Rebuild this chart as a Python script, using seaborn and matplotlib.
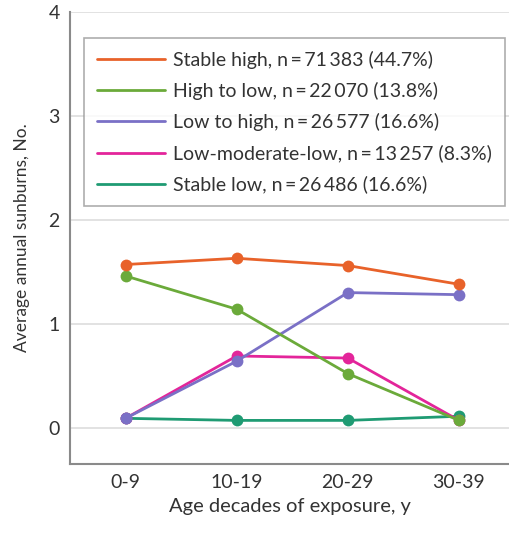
import pandas as pd
import numpy as np
import matplotlib.pyplot as plt
import seaborn as sns
from matplotlib.lines import Line2D

# Data
decades = ['0-9', '10-19', '20-29', '30-39']
groups = [
    'Stable high, n\u2009=\u200971\u2009383 (44.7%)',
    'High to low, n\u2009=\u200922\u2009070 (13.8%)',
    'Low to high, n\u2009=\u200926\u2009577 (16.6%)',
    'Low-moderate-low, n\u2009=\u200913\u2009257 (8.3%)',
    'Stable low, n\u2009=\u200926\u2009486 (16.6%)',
]
stable_high = [1.57, 1.63, 1.56, 1.38]
high_to_low = [1.46, 1.14, 0.52, 0.07]
low_to_high = [0.09, 0.64, 1.30, 1.28]
low_mod_low = [0.09, 0.69, 0.67, 0.07]
stable_low = [0.09, 0.07, 0.07, 0.11]
colors = ['#E8622A', '#6BAA3A', '#7A70C6', '#E3259A', '#1F9B73']

series = [stable_high, high_to_low, low_to_high, low_mod_low, stable_low]
rows = []
for g, vals in zip(groups, series):
    for d, v in zip(decades, vals):
        rows.append({'decade': d, 'sunburns': v, 'group': g})
df = pd.DataFrame(rows)

sns.set_style('white')
plt.rcParams['font.family'] = ['Lato', 'DejaVu Sans']

fig = plt.figure(figsize=(5.09, 5.34), dpi=100)
ax = fig.add_axes([0.1375, 0.131, 0.8625, 0.8465])

ax.grid(axis='y', color='#dddddd', linewidth=1.2)
ax.set_axisbelow(True)

# draw in reverse so the first groups sit on top where they overlap
sns.lineplot(data=df, x='decade', y='sunburns', hue='group', hue_order=groups[::-1],
             palette=colors[::-1], marker='o', markersize=8.5, markeredgewidth=0,
             linewidth=2, legend=False, ax=ax, sort=False)

ax.set_xlim(-0.5, 3.45)
ax.set_ylim(-0.35, 4)
ax.set_yticks([0, 1, 2, 3, 4])
ax.set_xlabel('Age decades of exposure, y', fontsize=14.5, color='#333333', labelpad=5)
ax.set_ylabel('Average annual sunburns, No.', fontsize=12.5, color='#333333', labelpad=13)
ax.tick_params(axis='both', labelsize=14, colors='#333333', length=4, width=1, color='#999999')

for s in ['top', 'right']:
    ax.spines[s].set_visible(False)
for s in ['left', 'bottom']:
    ax.spines[s].set_color('#8a8a8a')
    ax.spines[s].set_linewidth(1.5)

handles = [Line2D([0], [0], color=c, linewidth=2) for c in colors]
leg = ax.legend(handles, groups, loc='upper left', bbox_to_anchor=(0.032, 0.9425),
                borderaxespad=0, fontsize=14, frameon=True, fancybox=False,
                handlelength=3.5, handletextpad=0.45, labelspacing=0.68, borderpad=0.65)
leg.get_frame().set_edgecolor('#999999')
leg.get_frame().set_linewidth(1.2)
for t in leg.get_texts():
    t.set_color('#333333')

fig.savefig('out.png', dpi=100)
